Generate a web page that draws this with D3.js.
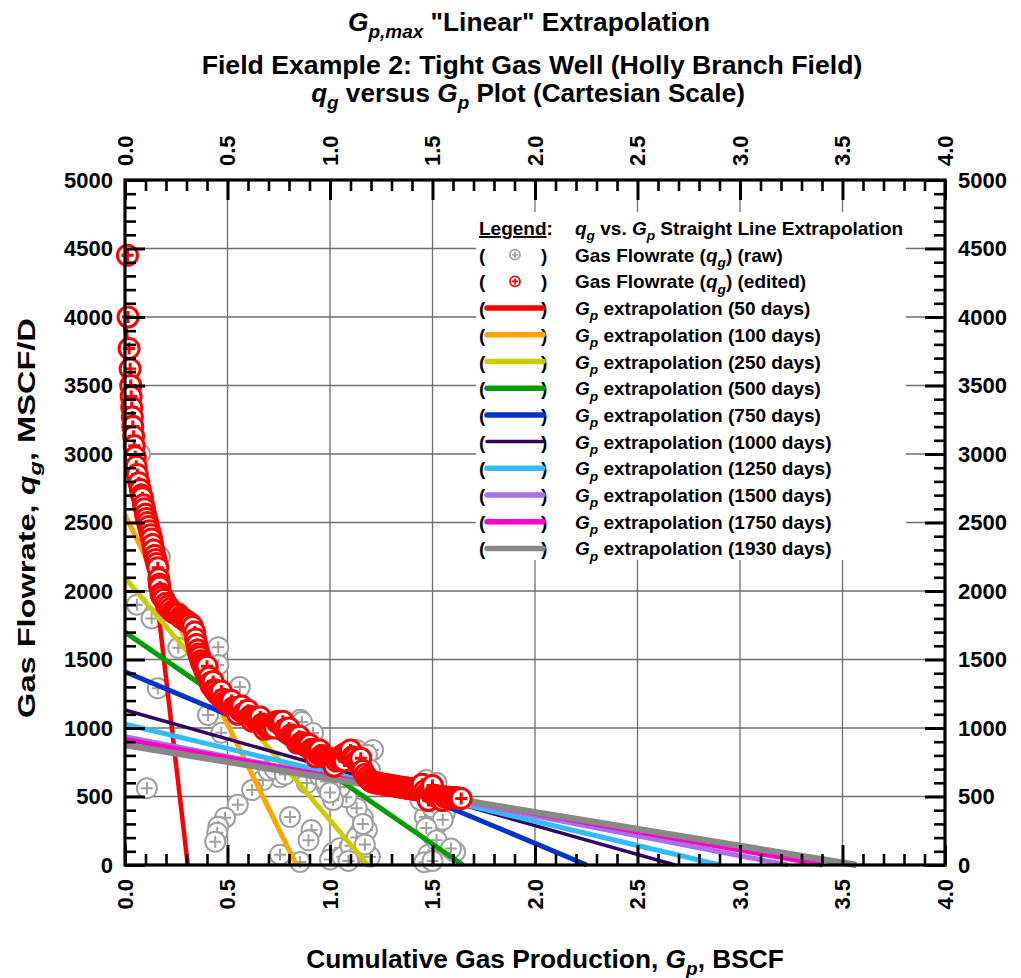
<!DOCTYPE html>
<html><head><meta charset="utf-8">
<script src="https://cdn.jsdelivr.net/npm/d3@7"></script>
<style>body{margin:0;background:#fff}</style>
</head><body><svg id="c" width="1021" height="978"></svg>
<script>
// ---------------- DATA ----------------
const xTickValues = [0, 0.5, 1.0, 1.5, 2.0, 2.5, 3.0, 3.5, 4.0];
const yTickValues = [0, 500, 1000, 1500, 2000, 2500, 3000, 3500, 4000, 4500, 5000];
const lineDays  = [50, 100, 250, 500, 750, 1000, 1250, 1500, 1750, 1930];
const lineQ0    = [3950, 2555, 2095, 1700, 1411, 1131, 1027, 937, 917, 876];   // q at Gp = 0
const lineGpMax = [0.306, 0.836, 1.185, 1.649, 2.252, 2.683, 2.902, 3.234, 3.403, 3.569]; // Gp at q = 0

const rawData = [
 [0.073,3000],[0.17,2250],[0.058,1900],[0.13,1800],[0.16,1290],[0.107,560],[0.26,1585],
 [0.455,1590],[0.455,1460],[0.415,1390],[0.56,1300],[0.405,1095],[0.47,965],[0.855,1060],
 [0.863,1044],[0.917,963],[1.13,840],[1.21,840],[0.756,640],[0.673,620],[0.887,598],[0.62,547],
 [0.55,440],[0.488,345],[0.455,280],[0.45,235],[0.44,170],[0.756,75],[0.854,22],[0.91,255],
 [0.895,180],[0.805,350],[1.015,90],[1.05,125],[1.11,75],[1.146,235],[1.18,255],[1.16,345],
 [1.13,415],[1.08,495],[1.05,570],[0.985,570],[1.015,475],[1.18,805],[1.195,695],[1.13,130],
 [1.195,60],[1.47,620],[1.5,570],[1.463,350],[1.56,380],[1.497,220],[1.48,75],[1.46,20],
 [1.61,95],[1.44,475],[1.585,475],[1.527,305],[0.7,690],[0.73,700],[0.78,660],[0.95,650],
 [0.98,610],[1.0,530],[1.0,40],[1.06,60],[1.1,140],[1.13,200],[1.16,300],[1.17,150],[1.09,30],
 [1.45,560],[1.52,600],[1.5,420],[1.55,330],[1.47,270],[1.52,180],[1.59,120],[1.5,30]
];

const editedData = [
 [0.012,4450],[0.015,4000],[0.02,3770],[0.025,3620],[0.028,3500],[0.03,3420],[0.033,3340],
 [0.036,3270],[0.038,3200],[0.042,3130],[0.045,3060],[0.05,2980],[0.055,2910],[0.06,2850],
 [0.068,2790],[0.075,2740],[0.08,2700],[0.085,2680],[0.09,2630],[0.095,2600],[0.1,2560],
 [0.105,2530],[0.11,2500],[0.115,2470],[0.12,2440],[0.125,2410],[0.13,2380],[0.135,2340],
 [0.14,2300],[0.145,2260],[0.15,2230],[0.155,2200],[0.16,2170],[0.165,2090],[0.168,2050],
 [0.17,2030],[0.175,1980],[0.18,1960],[0.19,1940],[0.2,1910],[0.21,1890],[0.22,1870],
 [0.23,1850],[0.24,1840],[0.25,1835],[0.26,1830],[0.27,1810],[0.28,1800],[0.29,1790],
 [0.3,1780],[0.31,1770],[0.32,1760],[0.33,1740],[0.34,1700],
 [0.345,1650],[0.35,1610],[0.355,1570],[0.36,1540],[0.365,1520],[0.37,1490],[0.375,1470],
 [0.38,1460],[0.385,1440],[0.39,1420],[0.395,1400],[0.4,1390],[0.41,1370],[0.415,1330],
 [0.42,1310],[0.43,1300],[0.435,1280],[0.44,1270],[0.45,1250],[0.46,1240],[0.47,1220],
 [0.48,1210],[0.49,1190],[0.5,1180],[0.51,1170],[0.52,1160],[0.53,1150],[0.54,1150],
 [0.55,1140],[0.56,1130],[0.57,1120],[0.58,1110],[0.59,1100],[0.6,1090],[0.61,1085],
 [0.62,1080],[0.63,1070],[0.64,1060],[0.65,1050],[0.66,1040],[0.67,1030],[0.68,1020],
 [0.69,1010],[0.7,1000],[0.71,1010],[0.72,1030],[0.73,1040],[0.74,1045],[0.75,1050],
 [0.76,1040],[0.77,1010],[0.78,990],[0.79,970],[0.8,960],[0.81,950],[0.82,940],[0.83,930],
 [0.84,920],[0.85,905],[0.86,895],[0.87,885],[0.88,875],[0.89,865],[0.9,855],[0.91,845],
 [0.92,835],[0.93,825],[0.94,815],[0.95,805],[0.96,800],[0.97,790],[0.98,785],[0.99,780],
 [1.0,775],[1.01,765],[1.02,755],[1.03,760],[1.04,775],[1.05,790],[1.06,800],[1.07,810],
 [1.08,815],[1.09,810],[1.1,800],[1.11,790],[1.12,780],[1.13,760],[1.14,740],[1.15,720],
 [1.16,690],[1.17,660],[1.18,640],[1.19,625],[1.2,610],[1.21,605],[1.22,600],[1.23,598],
 [1.24,595],[1.25,592],[1.26,590],[1.27,588],[1.28,585],[1.29,582],[1.3,580],[1.31,578],
 [1.32,575],[1.33,572],[1.34,570],[1.35,568],[1.36,565],[1.37,562],[1.38,560],[1.39,558],
 [1.4,555],[1.41,552],[1.42,550],[1.43,548],[1.44,545],[1.45,560],[1.46,540],[1.47,520],
 [1.48,500],[1.49,530],[1.5,540],[1.51,510],[1.52,500],[1.53,500],[1.54,500],[1.55,498],
 [1.56,495],[1.57,495],[1.58,495],[1.59,492],[1.6,490],[1.61,490],[1.62,490],[1.63,488],
 [0.4,1450],[0.43,1340],[0.47,1270],[0.52,1200],[0.57,1160],[0.6,1130],[0.66,1080],
 [0.73,1000],[0.77,1050],[0.8,1000],[0.85,940],[0.9,880],[0.95,840],[0.55,1100],[0.62,1050],
 [0.68,990],[0.84,890],[0.93,790],[1.02,720],[1.07,760],[1.1,840],[1.15,780],[1.45,590],
 [1.5,580],[1.48,470],[1.55,470],
 [1.64,485]
];

// ---------------- STYLE ----------------
const lineColors = ["#ff0000","#ffa500","#cccc00","#009e00","#0033cc","#330066","#33bbff","#aa70e6","#ff00cc","#888888"];
const lineWidths = [4.5,5,5,5,5,3.5,5,5,5,6.5];
const FONT = "'Liberation Sans', Arial, sans-serif";
const NARROW = "'Liberation Sans Narrow', 'Arial Narrow', 'Liberation Sans', Arial, sans-serif";

const svg = d3.select("#c");
const x = d3.scaleLinear().domain([0,4]).range([125,945]);
const y = d3.scaleLinear().domain([0,5000]).range([865,180]);

function rich(sel, parts, fs){
  parts.forEach(p=>{
    const t = sel.append("tspan").text(p.t);
    if(p.i) t.attr("font-style","italic");
    if(p.sub){ t.attr("font-size", fs*0.72).attr("dy", fs*0.28); }
    if(p.after){ t.attr("dy", -fs*0.28); }
  });
}
function fit(sel, target){
  const w = sel.node().getComputedTextLength();
  if (w > 0) {
    const cx = +sel.attr("x"), cy = +sel.attr("y");
    const k = target / w;
    const base = sel.attr("transform") || "";
    sel.attr("transform", base + ` translate(${cx},${cy}) scale(${k},1) translate(${-cx},${-cy})`);
  }
}

// ---------------- GRID ----------------
const grid = svg.append("g").attr("stroke","#6e6e6e").attr("stroke-width",1.3);
xTickValues.slice(1,-1).forEach(v=>grid.append("line").attr("x1",x(v)).attr("x2",x(v)).attr("y1",y(0)).attr("y2",y(5000)));
yTickValues.slice(1,-1).forEach(v=>grid.append("line").attr("x1",x(0)).attr("x2",x(4)).attr("y1",y(v)).attr("y2",y(v)));

svg.append("rect").attr("x",476).attr("y",212).attr("width",430).attr("height",348).attr("fill","#fff");

// ---------------- MARKERS ----------------
const R = 10, ARM = 6;
function marker(g, d, color, sw, r, arm){
  const m = g.append("g").attr("transform",`translate(${x(d[0])},${y(d[1])})`);
  m.append("circle").attr("r",r).attr("fill","#fff").attr("stroke",color).attr("stroke-width",sw);
  m.append("path").attr("d",`M${-arm},0H${arm}M0,${-arm}V${arm}`).attr("stroke",color).attr("stroke-width",sw);
}
const gRaw = svg.append("g");
rawData.forEach(d=>marker(gRaw,d,"#a0a0a0",2,R,ARM));

const gLines = svg.append("g");
lineDays.forEach((dd,i)=>{
  gLines.append("line")
    .attr("x1",x(0)).attr("y1",y(lineQ0[i]))
    .attr("x2",x(lineGpMax[i])).attr("y2",y(0))
    .attr("stroke",lineColors[i]).attr("stroke-width",lineWidths[i]);
});

// edited points drawn in production order (increasing Gp)
const gEd = svg.append("g");
editedData.slice().sort((a,b)=>a[0]-b[0]).forEach(d=>marker(gEd,d,"#ff0000",3,R,ARM));

// ---------------- AXES ----------------
const xMinor = d3.range(0,41).map(i=>i/10).filter(v=>Math.round(v*10)%5!==0);
const yMinor = d3.range(0,51).map(i=>i*100).filter(v=>v%500!==0);
function styleAx(g, w){ g.select(".domain").remove(); g.selectAll(".tick line").attr("stroke","#000").attr("stroke-width",w); g.selectAll("text").remove(); }
svg.append("g").attr("transform","translate(0,865)").call(d3.axisBottom(x).tickValues(xTickValues).tickSize(-20)).call(g=>styleAx(g,3));
svg.append("g").attr("transform","translate(0,865)").call(d3.axisBottom(x).tickValues(xMinor).tickSize(-11)).call(g=>styleAx(g,2.6));
svg.append("g").attr("transform","translate(0,180)").call(d3.axisTop(x).tickValues(xTickValues).tickSize(-20)).call(g=>styleAx(g,3));
svg.append("g").attr("transform","translate(0,180)").call(d3.axisTop(x).tickValues(xMinor).tickSize(-11)).call(g=>styleAx(g,2.6));
svg.append("g").attr("transform","translate(125,0)").call(d3.axisLeft(y).tickValues(yTickValues).tickSize(-20)).call(g=>styleAx(g,3));
svg.append("g").attr("transform","translate(125,0)").call(d3.axisLeft(y).tickValues(yMinor).tickSize(-11)).call(g=>styleAx(g,2.6));
svg.append("g").attr("transform","translate(945,0)").call(d3.axisRight(y).tickValues(yTickValues).tickSize(-20)).call(g=>styleAx(g,3));
svg.append("g").attr("transform","translate(945,0)").call(d3.axisRight(y).tickValues(yMinor).tickSize(-11)).call(g=>styleAx(g,2.6));
svg.append("rect").attr("x",x(0)).attr("y",y(5000)).attr("width",x(4)-x(0)).attr("height",y(0)-y(5000))
  .attr("fill","none").attr("stroke","#000").attr("stroke-width",3.2);

const tl = svg.append("g").attr("font-family",FONT).attr("font-weight","bold").attr("font-size",22).attr("fill","#000");
xTickValues.forEach(v=>{
  tl.append("text").attr("transform",`translate(${x(v)},879) rotate(-90)`).attr("text-anchor","end").attr("dy","0.36em").text(v.toFixed(1));
  tl.append("text").attr("transform",`translate(${x(v)},166) rotate(-90)`).attr("text-anchor","start").attr("dy","0.36em").text(v.toFixed(1));
});
yTickValues.forEach(v=>{
  tl.append("text").attr("x",113).attr("y",y(v)).attr("dy","0.36em").attr("text-anchor","end").text(v);
  tl.append("text").attr("x",958).attr("y",y(v)).attr("dy","0.36em").attr("text-anchor","start").text(v);
});

// ---------------- TITLES ----------------
const tg = svg.append("g").attr("font-family",NARROW).attr("font-weight","bold").attr("fill","#000");
const t1 = tg.append("text").attr("x",529).attr("y",31).attr("text-anchor","middle").attr("font-size",26);
rich(t1,[{t:"G",i:1},{t:"p,max",i:1,sub:1},{t:" \"Linear\" Extrapolation",after:1}],26); fit(t1,362);
const t2 = tg.append("text").attr("x",532).attr("y",74).attr("text-anchor","middle").attr("font-size",26)
  .text("Field Example 2: Tight Gas Well (Holly Branch Field)"); fit(t2,661);
const t3 = tg.append("text").attr("x",528).attr("y",102).attr("text-anchor","middle").attr("font-size",26);
rich(t3,[{t:"q",i:1},{t:"g",i:1,sub:1},{t:" versus ",after:1},{t:"G",i:1},{t:"p",i:1,sub:1},{t:" Plot (Cartesian Scale)",after:1}],26); fit(t3,434);

const xt = tg.append("text").attr("x",545).attr("y",968).attr("text-anchor","middle").attr("font-size",26);
rich(xt,[{t:"Cumulative Gas Production, "},{t:"G",i:1},{t:"p",i:1,sub:1},{t:", BSCF",after:1}],26); fit(xt,478);

const yt = svg.append("text").attr("font-family",FONT).attr("font-weight","bold").attr("font-size",23)
  .attr("transform","translate(35,518) rotate(-90)").attr("x",0).attr("y",0).attr("text-anchor","middle");
rich(yt,[{t:"Gas Flowrate, "},{t:"q",i:1},{t:"g",i:1,sub:1},{t:", MSCF/D",after:1}],23); fit(yt,400);

// ---------------- LEGEND ----------------
const LFS = 19;
const lg = svg.append("g").attr("font-family",FONT).attr("font-weight","bold").attr("font-size",LFS).attr("fill","#000");
const rowY = i => 235 + i*26.7;
const lt = lg.append("text").attr("x",479).attr("y",rowY(0));
lt.append("tspan").attr("text-decoration","underline").text("Legend");
lt.append("tspan").text(":");
const hdr = lg.append("text").attr("x",575).attr("y",rowY(0));
rich(hdr,[{t:"q",i:1},{t:"g",i:1,sub:1},{t:" vs. ",after:1},{t:"G",i:1},{t:"p",i:1,sub:1},{t:" Straight Line Extrapolation",after:1}],LFS);

const entries = [{kind:"raw"},{kind:"edited"}, ...lineDays.map((d,i)=>({kind:"line",i}))];
entries.forEach((e,k)=>{
  const yy = rowY(k+1);
  lg.append("text").attr("x",479).attr("y",yy).text("(");
  lg.append("text").attr("x",541).attr("y",yy).text(")");
  const cy = yy - 7;
  if(e.kind==="line"){
    lg.append("line").attr("x1",487).attr("x2",543).attr("y1",cy).attr("y2",cy)
      .attr("stroke",lineColors[e.i]).attr("stroke-width",lineWidths[e.i]===3.5?3.5:5.5).attr("stroke-linecap","round");
    const t = lg.append("text").attr("x",575).attr("y",yy);
    rich(t,[{t:"G",i:1},{t:"p",i:1,sub:1},{t:` extrapolation (${lineDays[e.i]} days)`,after:1}],LFS);
  } else {
    const m = lg.append("g").attr("transform",`translate(515,${cy})`);
    const col = e.kind==="raw" ? "#a0a0a0" : "#ff0000";
    m.append("circle").attr("r",5).attr("fill","#fff").attr("stroke",col).attr("stroke-width",1.8);
    m.append("path").attr("d","M-3,0H3M0,-3V3").attr("stroke",col).attr("stroke-width",1.8);
    const t = lg.append("text").attr("x",575).attr("y",yy);
    rich(t,[{t:"Gas Flowrate ("},{t:"q",i:1},{t:"g",i:1,sub:1},{t:`) (${e.kind==="raw"?"raw":"edited"})`,after:1}],LFS);
  }
});
</script></body></html>
